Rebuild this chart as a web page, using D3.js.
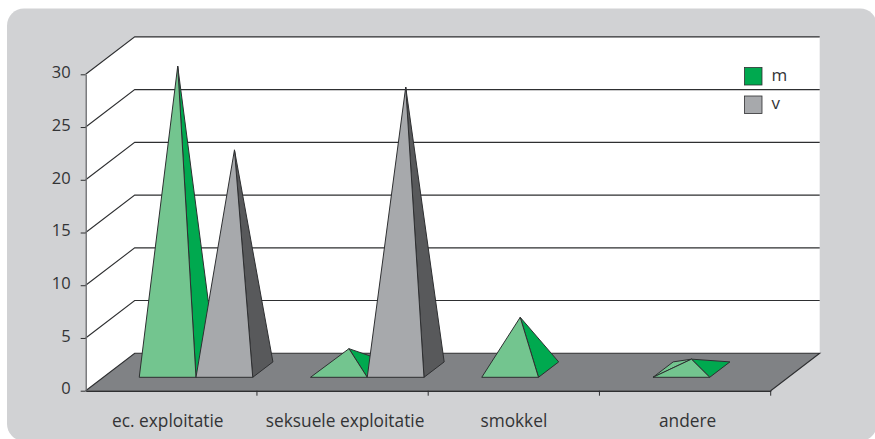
<!DOCTYPE html>
<html>
<head>
<meta charset="utf-8">
<script src="https://cdn.jsdelivr.net/npm/d3@7/dist/d3.min.js"></script>
<style>
  html, body { margin: 0; padding: 0; background: #fff; }
  svg { display: block; }
  text { font-family: "Open Sans", sans-serif; fill: #333436; }
</style>
</head>
<body>
<div id="chart"></div>
<script>
var categories = ["ec. exploitatie", "seksuele exploitatie", "smokkel", "andere"];
var seriesNames = ["m", "v"];
var valuesM = [29, 2, 5, 1];
var valuesV = [21, 27, 0, 0];
var yTicks = [0, 5, 10, 15, 20, 25, 30];

var WIDTH = 875, HEIGHT = 439;
var depthX = 49, depthY = 37.4; // offset of the back wall
var baseFront = 0.358, baseBack = 0.77; // pyramid base, as fraction of floor depth
var heightScale = 0.992; // pyramids stand further back so come out a bit shorter

var colors = {
  panel: "#d1d2d4", wall: "#ffffff", floor: "#808285", line: "#2e2f31",
  m: "#00a94f", mLight: "#73c58f", v: "#a7a9ac", vDark: "#58595b"
};

var svg = d3.select("#chart").append("svg")
  .attr("width", WIDTH)
  .attr("height", HEIGHT);

svg.append("rect")
  .attr("x", 7).attr("y", 8.5)
  .attr("width", WIDTH - 5).attr("height", HEIGHT - 6.5)
  .attr("rx", 17)
  .attr("fill", colors.panel);

var x0 = d3.scaleBand().domain(categories).range([85.7, 770.7]);
var x1 = d3.scaleBand().domain(seriesNames).range([36, 149.5]);
var y = d3.scaleLinear().domain([0, 30]).range([390.7, 74.3]);

var xLeft = x0.range()[0], xRight = x0.range()[1];

function pts(list) {
  return list.map(function(p) { return p[0] + "," + p[1]; }).join(" ");
}

// walls
svg.append("polygon")
  .attr("points", pts([[xLeft, y(30)], [xLeft + depthX, y(30) - depthY], [xRight + depthX, y(30) - depthY],
    [xRight + depthX, y(0) - depthY], [xLeft, y(0)]]))
  .attr("fill", colors.wall);

// gridlines with their diagonal on the side wall
yTicks.slice(1).forEach(function(t) {
  svg.append("polyline")
    .attr("points", pts([[xLeft, y(t)], [xLeft + depthX, y(t) - depthY], [xRight + depthX, y(t) - depthY]]))
    .attr("fill", "none")
    .attr("stroke", colors.line)
    .attr("stroke-width", 1.1);
});

// floor
svg.append("polygon")
  .attr("points", pts([[xLeft, y(0)], [xLeft + depthX, y(0) - depthY], [xRight + depthX, y(0) - depthY], [xRight, y(0)]]))
  .attr("fill", colors.floor);
svg.append("polyline")
  .attr("points", pts([[xLeft, y(0)], [xLeft + depthX, y(0) - depthY], [xRight + depthX, y(0) - depthY], [xRight, y(0)]]))
  .attr("fill", "none")
  .attr("stroke", colors.line)
  .attr("stroke-width", 1.1);

// axes
var yAxis = d3.axisLeft(y).tickValues(yTicks).tickSize(5).tickPadding(10).tickSizeOuter(0);
var yG = svg.append("g").attr("transform", "translate(" + xLeft + ",0)").call(yAxis);
yG.select(".domain").attr("stroke", "#6d6e71").attr("stroke-width", 1.4);
yG.selectAll(".tick line").attr("stroke", colors.line);
yG.selectAll(".tick text").style("font-size", "16.5px").attr("y", -2).attr("fill", "#333436");

var xAxis = d3.axisBottom(x0).tickSize(0).tickPadding(23.7);
var xG = svg.append("g").attr("transform", "translate(0," + y(0) + ")").call(xAxis);
xG.select(".domain").attr("stroke", colors.line).attr("stroke-width", 1.4);
// labels in the original are not quite centred on their band
var labelShift = [-3.5, 2.5, 0, 2.5];
xG.selectAll(".tick text")
  .style("font-size", "17.3px")
  .attr("x", function(d, i) { return labelShift[i]; })
  .attr("fill", "#333436");

// tick marks between the categories
svg.append("g").selectAll("line")
  .data(categories)
  .join("line")
  .attr("x1", function(d) { return x0(d) + x0.bandwidth(); })
  .attr("x2", function(d) { return x0(d) + x0.bandwidth(); })
  .attr("y1", y(0))
  .attr("y2", y(0) + 5)
  .attr("stroke", colors.line);

function drawPyramid(cat, name, value, front, side) {
  if (!value) return;
  var g = svg.append("g")
    .attr("stroke", colors.line)
    .attr("stroke-width", 1)
    .attr("stroke-linejoin", "round");
  var left = x0(cat) + x1(name) + baseFront * depthX;
  var right = left + x1.bandwidth();
  var yFront = y(0) - baseFront * depthY, yBack = y(0) - baseBack * depthY;
  var shift = (baseBack - baseFront) * depthX;
  var apex = [(left + right + shift) / 2, (yFront + yBack) / 2 - (y(0) - y(value)) * heightScale];
  var fl = [left, yFront], fr = [right, yFront], bl = [left + shift, yBack], br = [right + shift, yBack];

  // the left face only shows on very flat pyramids
  if (value <= 1) g.append("polygon").attr("points", pts([fl, bl, apex])).attr("fill", front);
  g.append("polygon").attr("points", pts([fr, br, apex])).attr("fill", side);
  g.append("polygon").attr("points", pts([fl, fr, apex])).attr("fill", front);
}

categories.forEach(function(c, i) {
  drawPyramid(c, "m", valuesM[i], colors.mLight, colors.m);
  drawPyramid(c, "v", valuesV[i], colors.v, colors.vDark);
});

// legend
var legendY = d3.scalePoint().domain(seriesNames).range([76, 104.5]);
var legend = svg.append("g").selectAll("g")
  .data(seriesNames)
  .join("g")
  .attr("transform", function(d) { return "translate(744.5," + legendY(d) + ")"; });
legend.append("rect")
  .attr("y", -8.5)
  .attr("width", 17.5).attr("height", 17.5)
  .attr("fill", function(d) { return d == "m" ? colors.m : colors.v; })
  .attr("stroke", colors.line)
  .attr("stroke-width", 0.8);
legend.append("text")
  .attr("x", 27)
  .attr("y", 4.8)
  .style("font-size", "17px")
  .text(function(d) { return d; });
</script>
</body>
</html>
